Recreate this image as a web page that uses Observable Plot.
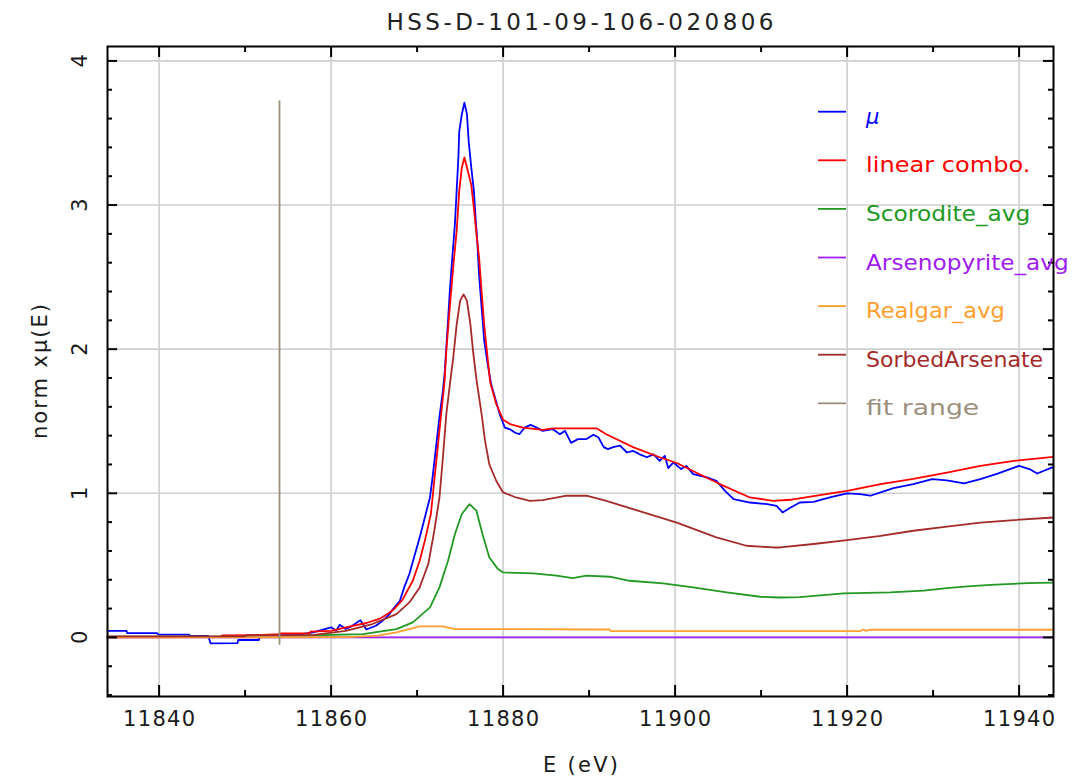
<!DOCTYPE html>
<html>
<head>
<meta charset="utf-8">
<script src="https://cdn.jsdelivr.net/npm/d3@7"></script>
<script src="https://cdn.jsdelivr.net/npm/@observablehq/plot@0.6"></script>
<style>
  body { margin: 0; background: #fff; font-family: "DejaVu Sans", sans-serif; }
  #wrap { position: relative; width: 1075px; height: 780px; overflow: hidden; }
  #chart { position: absolute; left: 0; top: 45px; }
  #overlay { position: absolute; left: 0; top: 0; pointer-events: none; }
</style>
</head>
<body>
<div id="wrap">
  <div id="chart"></div>
  <svg id="overlay" width="1075" height="780"></svg>
</div>
<script>
// Measured spectrum (mu) and the linear-combination fit with its components
const muE = [11834, 11836.2, 11836.3, 11839.8, 11839.9, 11843.5, 11843.6, 11845.7, 11846, 11849.1, 11849.2, 11851.6, 11851.7, 11856, 11857.9,
  11860.0, 11860.6, 11861.0, 11861.7, 11862.3, 11863.4, 11864.1, 11865.2, 11866.0, 11866.8, 11867.2, 11868.0, 11868.5, 11869.1, 11869.7,
  11870.3, 11870.9, 11871.5, 11871.8, 11872.2, 11872.6, 11873.0, 11873.2, 11873.6, 11873.8, 11874.1, 11874.4, 11874.6, 11874.8, 11874.9,
  11875.2, 11875.5, 11875.8, 11876.0, 11876.3, 11876.6, 11876.8, 11877.0, 11877.2, 11877.5, 11877.8, 11878.2, 11878.6, 11879.6, 11880.2,
  11880.8, 11881.4, 11881.9, 11882.5, 11883.2, 11883.9, 11884.6, 11885.8, 11886.6, 11887.2, 11887.9, 11888.7, 11889.7, 11890.5, 11891.1,
  11891.7, 11892.2, 11892.8, 11893.6, 11894.4, 11895.1, 11895.9, 11896.7, 11897.5, 11898.2, 11898.8, 11899.2, 11899.8, 11900.7, 11901.3,
  11902.1, 11903.7, 11904.8, 11905.8, 11906.8, 11908.7, 11910.7, 11911.8, 11912.5, 11913.4, 11914.5, 11916.1, 11918.0, 11920.0, 11921.5,
  11922.7, 11923.9, 11925.4, 11927.7, 11929.9, 11931.6, 11933.6, 11935.5, 11937.5, 11940.0, 11941.2, 11942.1, 11944];
const muV = [0.046, 0.046, 0.030, 0.030, 0.019, 0.019, 0.010, 0.010, -0.042, -0.040, -0.018, -0.018, 0.012, 0.018, 0.035,
  0.070, 0.046, 0.088, 0.058, 0.074, 0.120, 0.055, 0.081, 0.116, 0.162, 0.197, 0.254, 0.347, 0.440, 0.567,
  0.694, 0.832, 0.971, 1.110, 1.320, 1.530, 1.710, 1.830, 2.200, 2.400, 2.640, 2.870, 3.100, 3.330, 3.510,
  3.630, 3.710, 3.630, 3.440, 3.260, 3.100, 2.910, 2.750, 2.520, 2.290, 2.060, 1.900, 1.760, 1.550, 1.456,
  1.444, 1.420, 1.410, 1.456, 1.475, 1.456, 1.433, 1.445, 1.410, 1.433, 1.350, 1.376, 1.376, 1.406, 1.387,
  1.320, 1.306, 1.320, 1.330, 1.283, 1.295, 1.270, 1.250, 1.270, 1.225, 1.260, 1.175, 1.214, 1.168, 1.190,
  1.133, 1.110, 1.087, 1.017, 0.960, 0.936, 0.925, 0.913, 0.867, 0.900, 0.936, 0.940, 0.971, 1.000, 0.994,
  0.983, 1.006, 1.036, 1.064, 1.098, 1.090, 1.068, 1.098, 1.137, 1.190, 1.168, 1.137, 1.183];

const comboE = [11834, 11843, 11847.2, 11847.3, 11851.5, 11853.9, 11854, 11857.5, 11857.6, 11860, 11862.1, 11864.1, 11865.6, 11866.5,
  11867.2, 11868.3, 11869.5, 11870.3, 11870.9, 11871.6, 11872.0, 11872.4, 11872.8, 11873.2, 11873.4, 11873.8, 11874.2, 11874.6, 11874.9,
  11875.2, 11875.5, 11875.8, 11876.3, 11876.6, 11876.9, 11877.2, 11877.5, 11877.8, 11878.2, 11878.5, 11879.2, 11880.0, 11880.8, 11882.3,
  11884.6, 11885.8, 11890.9, 11892.0, 11895.1, 11898.2, 11900.2, 11902.9, 11905.2, 11908.7, 11911.4, 11913.4, 11916.1, 11920.0, 11923.9,
  11927.7, 11931.6, 11935.5, 11939.4, 11944];
const comboV = [0.000, 0.003, 0.005, 0.014, 0.016, 0.022, 0.028, 0.028, 0.040, 0.045, 0.075, 0.100, 0.128, 0.160,
  0.190, 0.260, 0.393, 0.532, 0.670, 0.856, 1.087, 1.320, 1.550, 1.780, 1.990, 2.290, 2.570, 2.820, 3.100,
  3.260, 3.330, 3.260, 3.140, 2.980, 2.800, 2.640, 2.400, 2.170, 1.940, 1.770, 1.620, 1.510, 1.480, 1.456,
  1.440, 1.450, 1.450, 1.410, 1.320, 1.250, 1.210, 1.130, 1.064, 0.971, 0.948, 0.955, 0.980, 1.017, 1.064,
  1.100, 1.144, 1.190, 1.225, 1.253];

const scoroditeE = [11834, 11855, 11858, 11863.7, 11867.6, 11869.5, 11871.5, 11872.6, 11873.6, 11874.4, 11875.2, 11876.1, 11876.9,
  11877.6, 11878.4, 11879.4, 11880.0, 11883.5, 11886.2, 11888.1, 11889.7, 11892.4, 11894.7, 11898.6, 11902.1, 11906.0, 11909.9,
  11912.2, 11914.5, 11919.6, 11925.0, 11928.9, 11931.6, 11934.0, 11936.7, 11941.0, 11944];
const scoroditeV = [0.005, 0.006, 0.015, 0.023, 0.058, 0.104, 0.208, 0.347, 0.532, 0.717, 0.856, 0.925, 0.879,
  0.717, 0.555, 0.474, 0.451, 0.444, 0.428, 0.412, 0.428, 0.421, 0.393, 0.375, 0.347, 0.312, 0.282,
  0.277, 0.280, 0.305, 0.312, 0.324, 0.342, 0.354, 0.365, 0.377, 0.380];

const arsenopyriteE = [11834, 11944];
const arsenopyriteV = [0, 0];

const realgarE = [11834, 11862, 11865.4, 11867.6, 11869.1, 11870.3, 11873.0, 11874.4, 11892.4, 11892.5, 11921.5, 11921.9, 11922.2,
  11922.6, 11944];
const realgarV = [0.000, 0.002, 0.012, 0.035, 0.058, 0.076, 0.076, 0.058, 0.055, 0.044, 0.044, 0.055, 0.045, 0.053, 0.053];

const sorbedE = [11834, 11850, 11850.1, 11858, 11861.7, 11864.8, 11867.6, 11869.1, 11870.3, 11871.3, 11872.0, 11872.6, 11873.0,
  11873.4, 11873.8, 11874.2, 11874.6, 11875.0, 11875.4, 11875.8, 11876.2, 11876.5, 11876.9, 11877.5, 11877.9, 11878.4, 11879.2,
  11880.0, 11881.5, 11883.1, 11884.6, 11887.4, 11889.7, 11892.0, 11895.1, 11900.2, 11904.8, 11908.3, 11911.4, 11912.2, 11916.1,
  11920.0, 11923.9, 11927.7, 11931.6, 11935.5, 11939.4, 11944];
const sorbedV = [0.007, 0.008, 0.015, 0.018, 0.046, 0.093, 0.162, 0.243, 0.347, 0.509, 0.740, 0.971, 1.248,
  1.550, 1.750, 1.940, 2.170, 2.335, 2.380, 2.335, 2.170, 1.990, 1.790, 1.550, 1.364, 1.200, 1.087,
  1.006, 0.971, 0.948, 0.953, 0.983, 0.983, 0.948, 0.890, 0.797, 0.694, 0.636, 0.624, 0.624, 0.648,
  0.675, 0.705, 0.740, 0.768, 0.797, 0.814, 0.832];

// Lower edge of the fit window, drawn as a vertical marker
const fitRangeE = [11854, 11854];
const fitRangeV = [-0.045, 3.72];

const titleText = "HSS-D-101-09-106-020806";
const xLabel = "E (eV)";
const yLabel = "norm x\u03bc(E)";
const seriesNames = ["\u03bc", "linear combo.", "Scorodite_avg", "Arsenopyrite_avg", "Realgar_avg", "SorbedArsenate", "fit range"];
const seriesColors = ["#0000ff", "#ff0000", "#229922", "#a020f0", "#ff9f30", "#a52a2a", "#9c8f7c"];

// Axis ticks
const xMajor = [11840, 11860, 11880, 11900, 11920, 11940];
const xMinor = [11850, 11870, 11890, 11910, 11930];
const yMajor = [0, 1, 2, 3, 4];
const yMinor = [-0.4, -0.2, 0.2, 0.4, 0.6, 0.8, 1.2, 1.4, 1.6, 1.8, 2.2, 2.4, 2.6, 2.8, 3.2, 3.4, 3.6, 3.8];

const pairs = (E, V) => E.map((e, i) => ({e, v: V[i]}));
const seriesData = [
  pairs(muE, muV), pairs(comboE, comboV), pairs(scoroditeE, scoroditeV), pairs(arsenopyriteE, arsenopyriteV),
  pairs(realgarE, realgarV), pairs(sorbedE, sorbedV), pairs(fitRangeE, fitRangeV)
];

const W = 1075, H = 735, mL = 107, mR = 22, mT = 1, mB = 84;
const fw = W - mL - mR, fh = H - mT - mB;
const font = {fontFamily: "DejaVu Sans", fontSize: 21, fill: "#1a1a1a"};
const tickStyle = {stroke: "#000", strokeWidth: 2};

const marks = [
  Plot.gridX(xMajor, {stroke: "#cfcfcf", strokeOpacity: 1, strokeWidth: 1.6}),
  Plot.gridY(yMajor, {stroke: "#cfcfcf", strokeOpacity: 1, strokeWidth: 1.6}),
  ...seriesData.map((d, i) => Plot.line(d, {x: "e", y: "v", stroke: seriesColors[i], strokeWidth: 1.8})),
  Plot.frame({stroke: "#000", strokeWidth: 2}),
  // inward ticks on all four sides
  Plot.tickX(xMajor, {x: d => d, insetTop: fh - 11, ...tickStyle}),
  Plot.tickX(xMajor, {x: d => d, insetBottom: fh - 11, ...tickStyle}),
  Plot.tickX(xMinor, {x: d => d, insetTop: fh - 6, ...tickStyle}),
  Plot.tickX(xMinor, {x: d => d, insetBottom: fh - 6, ...tickStyle}),
  Plot.tickY(yMajor, {y: d => d, insetRight: fw - 10, ...tickStyle}),
  Plot.tickY(yMajor, {y: d => d, insetLeft: fw - 10, ...tickStyle}),
  Plot.tickY(yMinor, {y: d => d, insetRight: fw - 5, ...tickStyle}),
  Plot.tickY(yMinor, {y: d => d, insetLeft: fw - 5, ...tickStyle}),
  // tick labels
  Plot.text(xMajor, {x: d => d, text: d => String(d), frameAnchor: "bottom", dy: 23, textAnchor: "middle", lineAnchor: "middle", ...font}),
  Plot.text(yMajor, {y: d => d, text: d => String(d), frameAnchor: "left", dx: -27, rotate: -90, textAnchor: "middle", lineAnchor: "middle", ...font}),
  // axis titles
  Plot.text([xLabel], {frameAnchor: "bottom", dy: 69, textAnchor: "middle", lineAnchor: "middle", text: d => d, ...font}),
  Plot.text([yLabel], {frameAnchor: "left", dx: -67, rotate: -90, textAnchor: "middle", lineAnchor: "middle", text: d => d, ...font})
];

const chart = Plot.plot({
  width: W, height: H,
  marginLeft: mL, marginRight: mR, marginTop: mT, marginBottom: mB,
  x: {domain: [11834, 11944], axis: null},
  y: {domain: [-0.41, 4.1], axis: null},
  style: {background: "#fff", overflow: "visible"},
  marks
});
document.getElementById("chart").appendChild(chart);

// Spread the wide, evenly spaced label lettering to a fixed run length
const runLength = {[xLabel]: 75, [yLabel]: 135};
xMajor.forEach(v => { runLength[String(v)] = 72; });
d3.select(chart).selectAll("text").each(function () {
  const len = runLength[this.textContent];
  if (len) d3.select(this).attr("textLength", len).attr("lengthAdjust", "spacing");
});

const overlay = d3.select("#overlay");
// Title centred over the plotting area
overlay.append("text").attr("x", mL + fw / 2).attr("y", 30).attr("text-anchor", "middle")
  .attr("font-family", "DejaVu Sans").attr("font-size", 23).attr("fill", "#222")
  .attr("textLength", 387).attr("lengthAdjust", "spacing").text(titleText);

// Legend in the upper right of the plotting area
seriesNames.forEach((name, i) => {
  const y = 111.7 + i * 48.6;
  overlay.append("line").attr("x1", 818).attr("x2", 846).attr("y1", y).attr("y2", y)
    .attr("stroke", seriesColors[i]).attr("stroke-width", 1.8);
  const t = overlay.append("text").attr("x", 866).attr("y", y + 12).text(name)
    .attr("fill", seriesColors[i]).attr("font-family", "DejaVu Sans").attr("font-size", 21)
    .attr("font-style", i === 0 ? "italic" : null);
  if (name.length > 1) t.attr("textLength", 12.8 * name.length - 2).attr("lengthAdjust", "spacingAndGlyphs");
});
</script>
</body>
</html>
